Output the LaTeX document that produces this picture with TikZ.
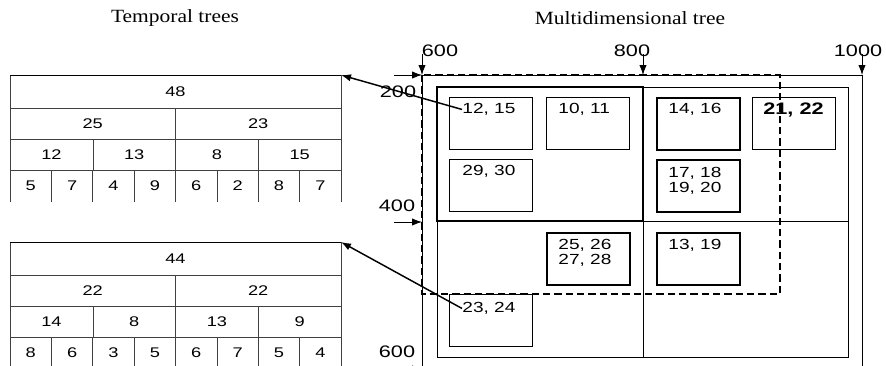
\documentclass[tikz,border=0pt]{standalone}
\usepackage{fontspec}
\setmainfont[FakeStretch=1.15]{Liberation Serif}
\newfontfamily\numfont[FakeStretch=1.3]{Liberation Sans}
\usetikzlibrary{arrows.meta,positioning}

\tikzset{
  num/.style={font=\numfont\fontsize{10.5}{11}\selectfont, inner sep=0pt},
  axis/.style={font=\numfont\fontsize{12.5}{13}\selectfont, inner sep=0pt},
  ttl/.style={font=\fontsize{14}{15}\selectfont, inner sep=0pt},
  cell/.style={draw, line width=0.75pt, anchor=north west, inner sep=0pt,
    minimum width=62.25pt, minimum height=39pt},
  hcell/.style={cell, line width=1.6pt},
  txt/.style={font=\numfont\fontsize{11}{11.5}\selectfont, inner sep=0pt,
    anchor=north west, align=left},
  link/.style={->, line width=1.1pt},
}

\begin{document}
\begin{tikzpicture}[x=0.75pt,y=-0.75pt,>={Latex[length=7.5pt,width=5.5pt]},line width=0.6pt]
  \useasboundingbox (0,0) rectangle (886,365);
  % titles
  \node[ttl] (tt) at (175,18) {Temporal trees};
  \node[ttl] (mt) at (630,18) {Multidimensional tree};

  % temporal trees
  \foreach \n/\dy in {a/0,b/167} {
    \draw[black!75] (10,75+\dy) rectangle (341,170+\dy);
    \draw[black!75] (10,108+\dy) -- (341,108+\dy) (10,139+\dy) -- (341,139+\dy);
    \draw[black!75] (175.5,108+\dy) -- (175.5,170+\dy) (93,139+\dy) -- (93,170+\dy) (258,139+\dy) -- (258,170+\dy);
    \foreach \x in {10,51.4,92.75,134.1,175.5,216.9,258.25,299.6,341}
      \draw[black!75] (\x,170+\dy) -- (\x,202+\dy);
    \draw (10,75+\dy) -- (341,75+\dy);
    \coordinate (t\n) at (341,75+\dy);
  }
  \node[num] (ta0) at (175.5,91.5) {48};
  \foreach \v [count=\i] in {25,23} \node[num] (ta1-\i) at ({10+165.5*(\i-0.5)},123.5) {\v};
  \foreach \v [count=\i] in {12,13,8,15} \node[num] (ta2-\i) at ({10+82.75*(\i-0.5)},154.5) {\v};
  \foreach \v [count=\i] in {5,7,4,9,6,2,8,7} \node[num] (ta3-\i) at ({10+41.375*(\i-0.5)},186) {\v};
  \node[num] (tb0) at (175.5,258.5) {44};
  \foreach \v [count=\i] in {22,22} \node[num] (tb1-\i) at ({10+165.5*(\i-0.5)},290.5) {\v};
  \foreach \v [count=\i] in {14,8,13,9} \node[num] (tb2-\i) at ({10+82.75*(\i-0.5)},321.5) {\v};
  \foreach \v [count=\i] in {8,6,3,5,6,7,5,4} \node[num] (tb3-\i) at ({10+41.375*(\i-0.5)},353) {\v};

  % multidimensional tree: frame and grid
  \draw (422,370) -- (422,75) -- (862,75) -- (862,370);
  \draw (437,87) rectangle (848,357);
  \draw (643,87) -- (643,357) (437,221) -- (848,221);
  \draw[line width=1.6pt] (437,87) rectangle (643,221);

  % axis marks
  \node[axis] (x600) at (440,51) {600};
  \node[axis] (x800) at (632,51) {800};
  \node[axis] (x1000) at (858,51) {1000};
  \node[axis] (y200) at (398,92) {200};
  \node[axis] (y400) at (397,206) {400};
  \node[axis] (y600) at (397,352) {600};
  \coordinate (cx600) at (422,75);
  \coordinate (cx800) at (643,75);
  \coordinate (cx1000) at (862,75);
  \coordinate (cy200) at (422,75);
  \coordinate (cy400) at (422,222);
  \coordinate (cy600) at (422,369);
  \foreach \c in {600,800,1000} \draw[->] (cx\c) ++(0,-21) -- (cx\c);
  \foreach \c in {200,400,600} \draw[->] (cy\c) ++(-28,0) -- (cy\c);

  % cells
  \node[cell] (b1215) at (449,97) {};
  \node[cell] (b1011) at (546,97) {};
  \node[cell] (b2930) at (449,159) {};
  \node[hcell] (b1416) at (656,97) {};
  \node[cell] (b2122) at (752,97) {};
  \node[hcell] (b1720) at (656,159) {};
  \node[hcell] (b2528) at (546,232) {};
  \node[hcell] (b1319) at (656,232) {};
  \node[cell] (b2324) at (449,294) {};
  \node[txt] (l1215) at (462,103) {12, 15};
  \node[txt] (l1011) at (558,103) {10, 11};
  \node[txt] (l2930) at (462,165) {29, 30};
  \node[txt] (l1416) at (668,103) {14, 16};
  \node[txt,font=\numfont\bfseries\fontsize{12.5}{13}\selectfont] (l2122) at (763,102) {21, 22};
  \node[txt] (l1720) at (668,167) {17, 18\\19, 20};
  \node[txt] (l2528) at (558,239) {25, 26\\27, 28};
  \node[txt] (l1319) at (668,239) {13, 19};
  \node[txt] (l2324) at (462,302) {23, 24};

  % query region
  \draw[dashed, line width=1.4pt, dash pattern=on 5.5pt off 3pt] (422,75) rectangle (780,294);

  % links to temporal trees
  \draw[link] (l1215.west) -- (ta);
  \draw[link] (l2324.west) -- (tb);
\end{tikzpicture}
\end{document}
